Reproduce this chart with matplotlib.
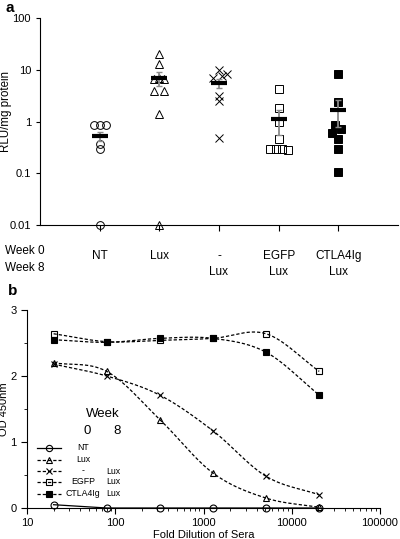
import numpy as np
import matplotlib
matplotlib.use('Agg')
import matplotlib.pyplot as plt
from matplotlib.lines import Line2D

plt.rcParams['font.family'] = ['Liberation Sans', 'DejaVu Sans']

# panel a data
groups_week0 = ['NT', 'Lux', '-', 'EGFP', 'CTLA4Ig']
groups_week8 = ['', '', 'Lux', 'Lux', 'Lux']
nt_vals = [0.84, 0.84, 0.84, 0.36, 0.30, 0.01]
lux_vals = [20, 13, 6.5, 6.5, 7, 3.9, 3.9, 1.4, 0.01]
x_lux_vals = [10, 7, 8.3, 7.6, 3.1, 2.5, 0.49]
egfp_vals = [4.3, 1.8, 0.97, 0.45, 0.30, 0.29, 0.30, 0.28]
ctla_vals = [8.3, 2.4, 0.84, 0.72, 0.6, 0.45, 0.30, 0.104]
group_means = [0.52, 6.9, 5.6, 1.1, 1.7]
group_sem = [0.1, 2.1, 1.1, 0.55, 0.9]

# panel b data
dilution = [20, 80, 320, 1280, 5120, 20480]
od_nt = [0.05, 0.0, 0.0, 0.0, 0.0, 0.0]
od_lux = [2.20, 2.07, 1.34, 0.53, 0.15, 0.01]
od_x_lux = [2.18, 2.00, 1.71, 1.17, 0.48, 0.20]
od_egfp = [2.64, 2.52, 2.54, 2.57, 2.64, 2.07]
od_ctla = [2.55, 2.51, 2.57, 2.57, 2.36, 1.71]

# layout: horizontal jitter (pixels) of the dots in panel a
jitter = [
    [-6, 0, 6, 0, 0, 0],
    [0, 0, -5, 5, 0, -5, 5, 0, 0],
    [0, -6, 8, 3, 0, 0, 0],
    [0, 0, 0, 0, -9, -3, 3, 9],
    [0, 0, -3, 3, -6, 0, 0, 0],
]

W, H = 400, 539
fig = plt.figure(figsize=(W / 100, H / 100), dpi=100)


def box(l, t, r, b):
    return [l / W, 1 - b / H, (r - l) / W, (b - t) / H]


# ---------- panel a ----------
ax = fig.add_axes(box(40, 18, 398, 225))
ax.set_yscale('log')
ax.set_ylim(0.01, 100)
ax.set_xlim(0, 6)
styles = [
    dict(marker='o', mfc='none', mec='black'),
    dict(marker='^', mfc='none', mec='black'),
    dict(marker='x', color='black'),
    dict(marker='s', mfc='none', mec='black'),
    dict(marker='s', mfc='black', mec='black'),
]
all_vals = [nt_vals, lux_vals, x_lux_vals, egfp_vals, ctla_vals]
for i, vals in enumerate(all_vals):
    xs = (i + 1) + np.array(jitter[i]) / 60.0
    ax.plot(xs, vals, linestyle='none', markersize=5.6, mew=0.7,
            clip_on=False, zorder=3, **styles[i])
    ax.errorbar(i + 1, group_means[i], yerr=group_sem[i], color='#8a8a8a',
                capsize=2.5, elinewidth=1.3, capthick=1, zorder=4)
    ax.plot(i + 1, group_means[i], marker='_', markersize=11, mew=3,
            color='black', zorder=5)

ax.spines['top'].set_visible(False)
ax.spines['right'].set_visible(False)
ax.set_yticks([0.01, 0.1, 1, 10, 100])
ax.set_yticklabels(['0.01', '0.1', '1', '10', '100'])
ax.yaxis.set_minor_locator(matplotlib.ticker.NullLocator())
ax.set_xticks([1, 2, 3, 4, 5])
ax.set_xticklabels([a + '\n' + b for a, b in zip(groups_week0, groups_week8)],
                   linespacing=1.45)
ax.tick_params(axis='x', labelsize=8.5, pad=14, length=4)
ax.tick_params(axis='y', labelsize=8, length=3)
ax.set_ylabel('RLU/mg protein', fontsize=8.3)
ax.yaxis.set_label_coords(-0.078, 0.55)
fig.text(5 / W, 1 - 251 / H, 'Week 0', fontsize=8.5, va='center')
fig.text(5 / W, 1 - 268 / H, 'Week 8', fontsize=8.5, va='center')
fig.text(5 / W, 1 - 8 / H, 'a', fontsize=11, fontweight='bold', va='center')


# ---------- panel b ----------
def smooth(xv, yv, n=30):
    # Catmull-Rom curve in log-x space, like a spreadsheet "smoothed line"
    lx = np.log10(xv)
    y = np.array(yv, dtype=float)
    px = np.concatenate([[2 * lx[0] - lx[1]], lx, [2 * lx[-1] - lx[-2]]])
    py = np.concatenate([[2 * y[0] - y[1]], y, [2 * y[-1] - y[-2]]])
    ox, oy = [], []
    t = np.linspace(0, 1, n)
    for k in range(1, len(px) - 2):
        for arr, out in ((px, ox), (py, oy)):
            p0, p1, p2, p3 = arr[k - 1], arr[k], arr[k + 1], arr[k + 2]
            out.extend(0.5 * ((2 * p1) + (-p0 + p2) * t
                              + (2 * p0 - 5 * p1 + 4 * p2 - p3) * t ** 2
                              + (-p0 + 3 * p1 - 3 * p2 + p3) * t ** 3))
    return 10 ** np.array(ox), np.array(oy)


bx = fig.add_axes(box(27, 310, 380, 508))
bx.set_xscale('log')
bx.set_xlim(10, 100000)
bx.set_ylim(0, 3)
dash = (0, (2.6, 1.6))
series = [
    (od_nt, 'o', 'none', '-'),
    (od_lux, '^', 'none', dash),
    (od_x_lux, 'x', 'none', dash),
    (od_egfp, 's', 'none', dash),
    (od_ctla, 's', 'black', dash),
]
for yv, mk, fc, ls in series:
    sx, sy = smooth(dilution, yv)
    if ls == '-':
        sx, sy = dilution, yv
    bx.plot(sx, sy, color='black', linestyle=ls, linewidth=0.9, clip_on=False)
    bx.plot(dilution, yv, linestyle='none', marker=mk, mfc=fc, mec='black',
            color='black', markersize=5, mew=0.8, zorder=3, clip_on=False)

bx.spines['top'].set_visible(False)
bx.spines['right'].set_visible(False)
bx.set_yticks([0, 1, 2, 3])
bx.set_yticks([0.5, 1.5, 2.5], minor=True)
bx.set_xticks([10, 100, 1000, 10000, 100000])
bx.set_xticklabels(['10', '100', '1000', '10000', '100000'])
bx.tick_params(axis='both', which='major', labelsize=8, length=4)
bx.tick_params(axis='both', which='minor', length=2.5)
bx.set_xlabel('Fold Dilution of Sera', fontsize=8, labelpad=1)
bx.set_ylabel('OD 450nm', fontsize=8)
bx.yaxis.set_label_coords(-0.05, 0.5)
fig.text(8 / W, 1 - 291 / H, 'b', fontsize=11, fontweight='bold', va='center')

# legend drawn by hand: Week 0 / Week 8 columns
fig.text(103 / W, 1 - 414 / H, 'Week', fontsize=9.5, ha='center', va='center')
fig.text(87 / W, 1 - 431 / H, '0', fontsize=9.5, ha='center', va='center')
fig.text(117 / W, 1 - 431 / H, '8', fontsize=9.5, ha='center', va='center')
leg_rows = [448, 460, 471, 482, 494]
for r, (yv, mk, fc, ls), w0, w8 in zip(leg_rows, series, groups_week0, groups_week8):
    yy = 1 - r / H
    fig.add_artist(Line2D([37 / W, 61 / W], [yy, yy], color='black',
                          linestyle=ls, linewidth=0.9))
    fig.add_artist(Line2D([49 / W], [yy], marker=mk, mfc=fc, mec='black',
                          color='black', markersize=4.5, mew=0.8, linestyle='none'))
    fig.text(83 / W, yy, w0, fontsize=6.3, ha='center', va='center')
    fig.text(113 / W, yy, w8, fontsize=6.3, ha='center', va='center')

fig.savefig('out.png', dpi=100)
